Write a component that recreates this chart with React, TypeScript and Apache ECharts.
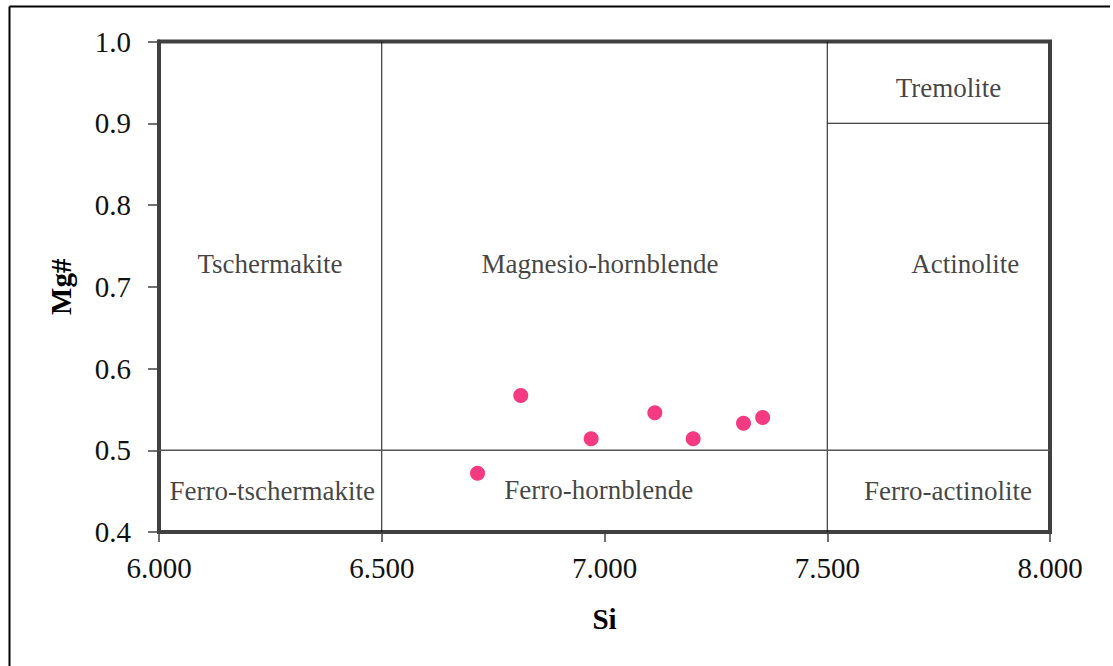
import React, { useEffect, useRef } from "react";
import * as echarts from "echarts";

const siValues = [6.812, 6.970, 7.113, 7.199, 7.312, 7.355, 6.715];
const mgValues = [0.567, 0.514, 0.546, 0.514, 0.533, 0.540, 0.472];

const xTicks = [6.0, 6.5, 7.0, 7.5, 8.0];
const yTicks = [0.4, 0.5, 0.6, 0.7, 0.8, 0.9, 1.0];

const boundaryA = [[6.5, 0.4], [6.5, 1.0]];
const boundaryB = [[7.5, 0.4], [7.5, 1.0]];
const boundaryMg = [[6.0, 0.5], [8.0, 0.5]];
const boundaryTrem = [[7.5, 0.9], [8.0, 0.9]];

const regionNames = [
  "Tschermakite",
  "Magnesio-hornblende",
  "Actinolite",
  "Tremolite",
  "Ferro-tschermakite",
  "Ferro-hornblende",
  "Ferro-actinolite",
];
const regionX = [6.249, 6.99, 7.81, 7.772, 6.254, 6.987, 7.771];
const regionY = [0.728, 0.728, 0.728, 0.943, 0.45, 0.451, 0.45];

const FONT = "'Liberation Serif', 'Times New Roman', serif";

export default function App() {
  const ref = useRef<HTMLDivElement>(null);
  useEffect(() => {
    if (!ref.current) return;
    const chart = echarts.init(ref.current, null, { renderer: "svg" });
    const lineSeries = (data: number[][], color: string, width: number) => ({
      type: "line",
      data,
      symbol: "none",
      silent: true,
      lineStyle: { color, width },
      z: 2,
    });
    chart.setOption({
      animation: false,
      backgroundColor: "#ffffff",
      textStyle: { fontFamily: FONT },
      grid: {
        left: 159,
        right: 63,
        top: 41.5,
        bottom: 134,
        show: true,
        borderColor: "#404040",
        borderWidth: 4,
        backgroundColor: "transparent",
      },
      graphic: [
        { type: "line", shape: { x1: 9.5, y1: 6.5, x2: 9.5, y2: 666 }, style: { stroke: "#000", lineWidth: 2 } },
        { type: "line", shape: { x1: 9.5, y1: 6.5, x2: 1110, y2: 6.5 }, style: { stroke: "#000", lineWidth: 2 } },
      ],
      xAxis: {
        type: "value",
        min: xTicks[0],
        max: xTicks[xTicks.length - 1],
        interval: 0.5,
        name: "Si",
        nameLocation: "middle",
        nameGap: 72,
        nameTextStyle: { fontFamily: FONT, fontSize: 29, fontWeight: "bold", color: "#000" },
        axisLine: { show: true, lineStyle: { color: "#404040", width: 4 } },
        axisTick: { show: true, length: 10, lineStyle: { color: "#404040", width: 1.5 } },
        axisLabel: {
          formatter: (v: number) => v.toFixed(3),
          fontFamily: FONT,
          fontSize: 29,
          color: "#111",
          margin: 21,
        },
        splitLine: { show: false },
      },
      yAxis: {
        type: "value",
        min: yTicks[0],
        max: yTicks[yTicks.length - 1],
        interval: 0.1,
        name: "Mg#",
        nameLocation: "middle",
        nameGap: 84,
        nameRotate: 90,
        nameTextStyle: { fontFamily: FONT, fontSize: 29, fontWeight: "bold", color: "#000" },
        axisLine: { show: true, lineStyle: { color: "#404040", width: 4 } },
        axisTick: { show: true, length: 11, lineStyle: { color: "#404040", width: 1.5 } },
        axisLabel: {
          formatter: (v: number) => v.toFixed(1),
          fontFamily: FONT,
          fontSize: 29,
          color: "#111",
          margin: 28,
        },
        splitLine: { show: false },
      },
      series: [
        lineSeries(boundaryA, "#111", 1),
        lineSeries(boundaryB, "#111", 1),
        lineSeries(boundaryMg, "#555", 1.5),
        lineSeries(boundaryTrem, "#111", 1.2),
        {
          type: "scatter",
          silent: true,
          symbolSize: 0,
          data: regionNames.map((n, i) => ({ value: [regionX[i], regionY[i]], name: n })),
          label: {
            show: true,
            position: "inside",
            formatter: (p: any) => p.name,
            fontFamily: FONT,
            fontSize: 27,
            color: "#111",
          },
          z: 3,
        },
        {
          type: "scatter",
          data: siValues.map((x, i) => [x, mgValues[i]]),
          symbol: "circle",
          symbolSize: 15,
          itemStyle: { color: "#f43a80", opacity: 1 },
          z: 5,
        },
      ],
    });
    return () => chart.dispose();
  }, []);
  return (
    <div
      ref={ref}
      style={{ position: "absolute", left: 0, top: 0, width: 1113, height: 666, background: "#fff" }}
    />
  );
}
